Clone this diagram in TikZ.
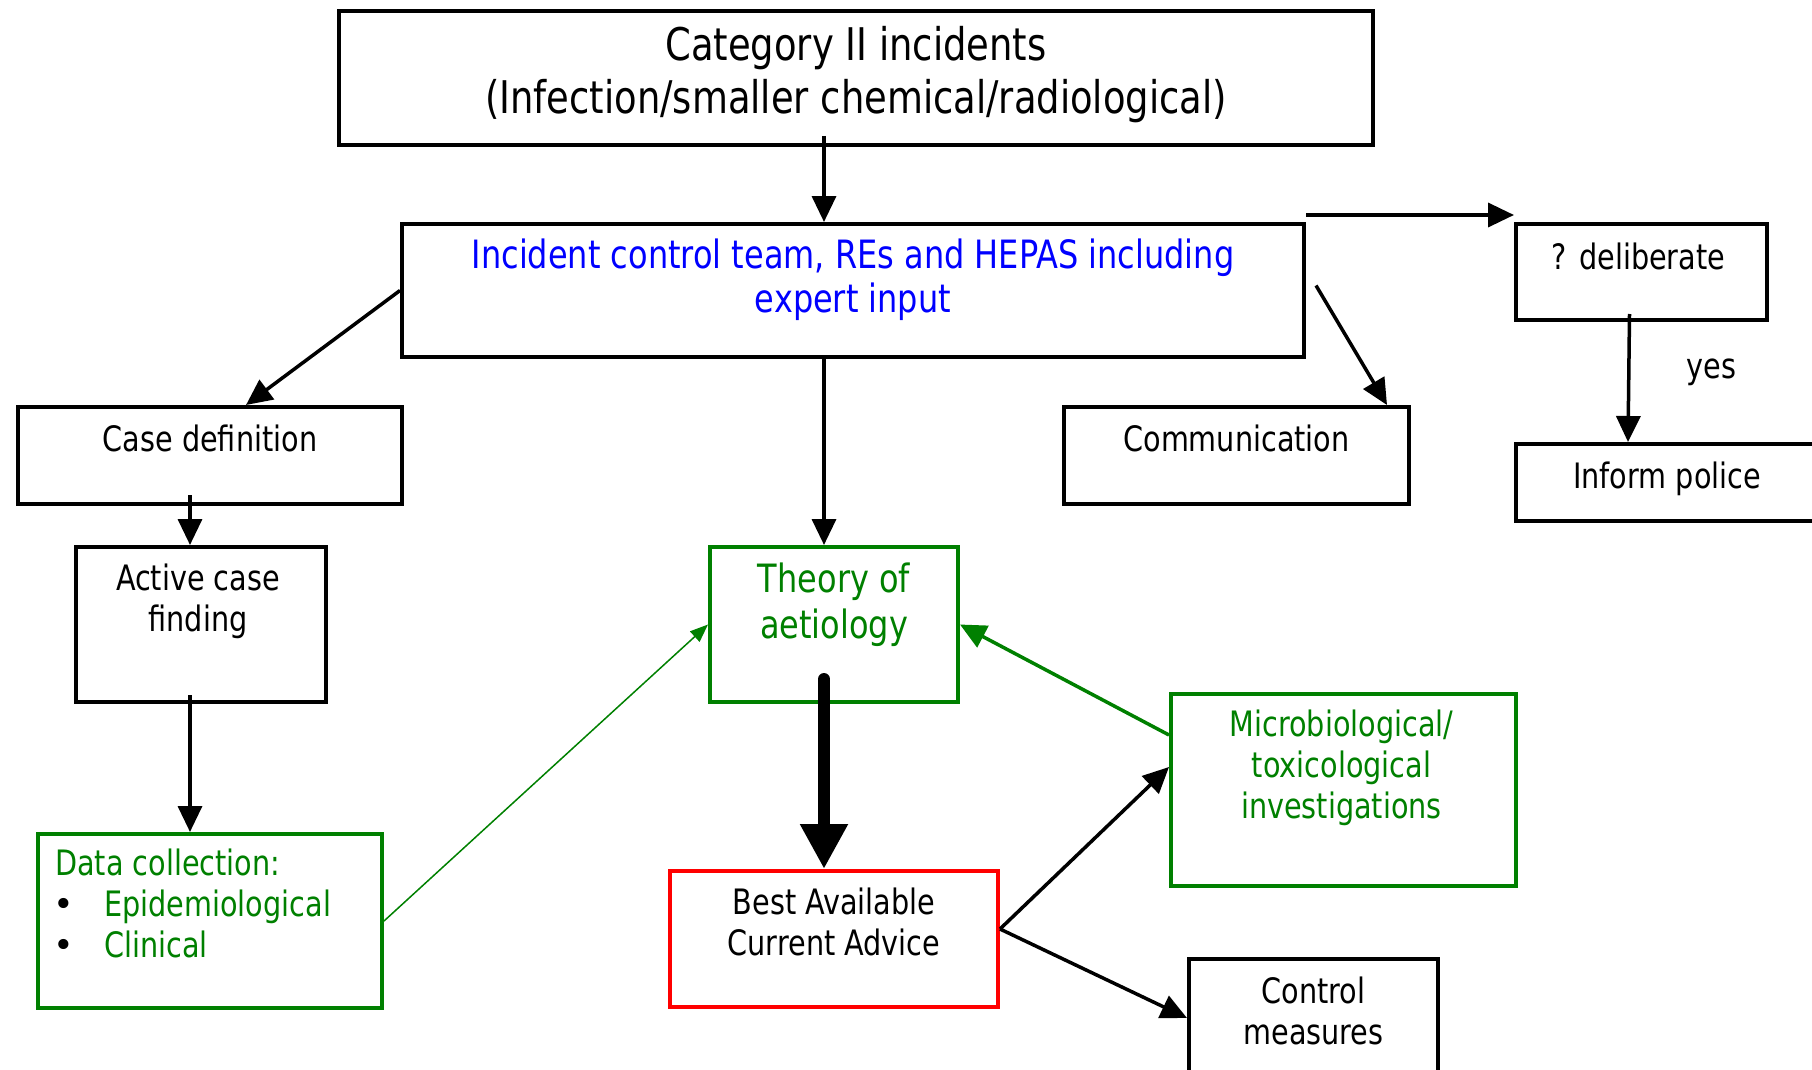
\documentclass[tikz,border=0pt]{standalone}
\usepackage{fontspec}
\setmainfont{DejaVu Sans}[FakeStretch=0.82]
\newfontfamily\bulletfont{DejaVu Sans}
\usetikzlibrary{arrows.meta,positioning}
\definecolor{icgreen}{RGB}{0,128,0}
\definecolor{icblue}{RGB}{0,0,255}
\definecolor{icred}{RGB}{255,0,0}
\newcommand{\icbullet}{\makebox[18pt][c]{\color{black}\bulletfont\textbullet}\hspace{31pt}}

\begin{document}
\begin{tikzpicture}[x=1pt, y=-1pt,
    box/.style={draw, rectangle, line width=4pt, anchor=north west, inner sep=0pt},
    txt/.style={align=center, inner sep=0pt, font=\fontsize{35}{41}\selectfont},
    arr/.style={-{Triangle[length=26pt,width=24pt]}, line width=3.5pt},
    bigarr/.style={-{Triangle[length=45pt,width=45pt]}, line width=12pt, line cap=round},
    thinarr/.style={-{Triangle[length=18pt,width=14pt]}, line width=1.5pt, icgreen}]
        \useasboundingbox (0,0) rectangle (1812,1070);

        % Boxes
        \node (cat) [box, minimum width=1034pt, minimum height=134pt] at (337,9) {};
        \node (ict) [box, minimum width=902pt, minimum height=133pt] at (400,222) {};
        \node (casedef) [box, minimum width=384pt, minimum height=97pt] at (16,405) {};
        \node (active) [box, minimum width=250pt, minimum height=155pt] at (74,545) {};
        \node (data) [box, icgreen, minimum width=344pt, minimum height=174pt] at (36,832) {};
        \node (theory) [box, icgreen, minimum width=248pt, minimum height=155pt] at (708,545) {};
        \node (best) [box, icred, minimum width=328pt, minimum height=136pt] at (668,869) {};
        \node (micro) [box, icgreen, minimum width=345pt, minimum height=192pt] at (1169,692) {};
        \node (control) [box, minimum width=249pt, minimum height=118pt] at (1187,957) {};
        \node (comm) [box, minimum width=345pt, minimum height=97pt] at (1062,405) {};
        \node (delib) [box, minimum width=251pt, minimum height=96pt] at (1514,222) {};
        \node (police) [box, minimum width=304pt, minimum height=77pt] at (1514,442) {};

        % Texts
        \node (cattxt) [txt, font=\fontsize{45}{53}\selectfont] at ([yshift=-66pt]cat.north)
            {Category II incidents\\(Infection/smaller chemical/radiological)};
        \node (icttxt) [txt, icblue, font=\fontsize{39}{44}\selectfont] at ([yshift=-58pt]ict.north)
            {Incident control team, REs and HEPAS including\\expert input};
        \node (casedeftxt) [txt] at ([yshift=-33pt]casedef.north) {Case definition};
        \node (activetxt) [txt] at ([xshift=-3pt,yshift=-56pt]active.north) {Active case\\finding};
        \node (datatxt) [txt, icgreen, align=left, anchor=west] at ([xshift=19pt,yshift=18pt]data.west)
            {Data collection:\\ \icbullet Epidemiological\\ \icbullet Clinical};
        \node (theorytxt) [txt, icgreen, font=\fontsize{39}{46}\selectfont] at ([yshift=-60pt]theory.north)
            {Theory of\\aetiology};
        \node (besttxt) [txt] at ([yshift=-53pt]best.north) {Best Available\\Current Advice};
        \node (microtxt) [txt, icgreen] at ([xshift=-2pt,yshift=-76pt]micro.north)
            {Microbiological/\\toxicological\\investigations};
        \node (controltxt) [txt] at ([yshift=-54pt]control.north) {Control\\measures};
        \node (commtxt) [txt] at ([yshift=-33pt]comm.north) {Communication};
        \node (delibtxt) [txt] at ([xshift=-3pt,yshift=-34pt]delib.north) {? deliberate};
        \node (policetxt) [txt] at ([xshift=-1pt,yshift=-37pt]police.north) {Inform police};

        % Edges
        \draw[arr] ([xshift=-32pt,yshift=11pt]cat.south) -- ([xshift=-29pt]ict.north);
        \draw[arr] (ict.west) -- ([xshift=36pt]casedef.north);
        \draw[arr] ([xshift=-20pt,yshift=11pt]casedef.south) -- ([xshift=-11pt]active.north);
        \draw[arr] ([xshift=-11pt,yshift=9pt]active.south) -- ([xshift=-20pt]data.north);
        \draw[thinarr] (data.east) -- (theory.west);
        \draw[arr] ([xshift=-29pt]ict.south) -- ([xshift=-10pt]theory.north);
        \draw[bigarr] ([xshift=-10pt,yshift=25pt]theory.south) -- ([xshift=-10pt]best.north);
        \draw[arr, icgreen] ([yshift=55pt]micro.west) -- (theory.east);
        \draw[arr] ([yshift=10pt]best.east) -- ([yshift=23pt]micro.west);
        \draw[arr] ([yshift=10pt]best.east) -- (control.west);
        \draw[arr] ([xshift=10pt,yshift=5pt]ict.east) -- ([xshift=-24pt]comm.north east);
        \draw[arr] ([yshift=7pt]ict.north east) -- ([yshift=7pt]delib.north west);
        \draw[arr] ([xshift=-12pt,yshift=8pt]delib.south) -- node[midway, xshift=83pt, yshift=6pt] (yes) [txt] {yes}
            ([xshift=114pt]police.north west);
    \end{tikzpicture}
\end{document}
